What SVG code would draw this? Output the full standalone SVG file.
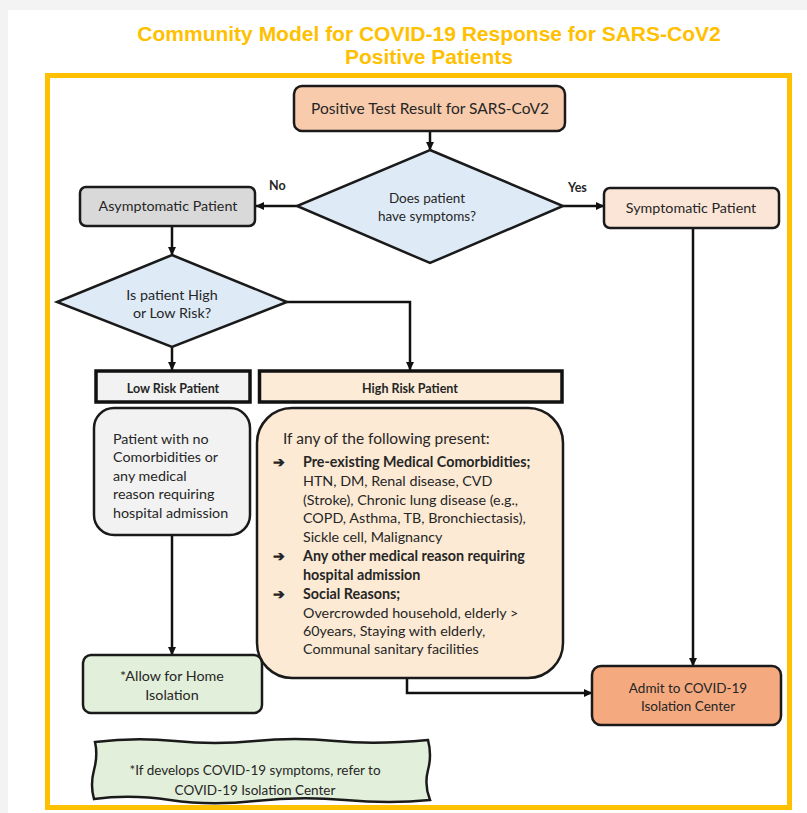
<svg xmlns="http://www.w3.org/2000/svg" width="807" height="813" viewBox="0 0 807 813">
<defs>
<marker id="ah" markerUnits="userSpaceOnUse" markerWidth="9" markerHeight="9" refX="8" refY="4.5" orient="auto">
<path d="M0,0.5 L8.5,4.5 L0,8.5 z" fill="#111"/>
</marker>
<style>
.title{font-family:"Liberation Sans",Arial,sans-serif;font-weight:bold;font-size:21px;fill:#FFC000;text-anchor:middle}
.t{font-family:Lato,"Noto Sans",sans-serif;fill:#262626;font-size:14.3px}
.d{font-size:13.5px}
.c{text-anchor:middle}
.b{font-weight:bold}
.s{font-size:12.5px;font-weight:bold}
.box{stroke:#1a1a1a;stroke-width:2.5}
.con{fill:none;stroke:#111;stroke-width:2.5}
</style>
</defs>
<rect x="0" y="0" width="807" height="813" fill="#f3f3f3"/>
<rect x="8" y="10" width="799" height="803" fill="#ffffff"/>
<text class="title" x="429" y="41">Community Model for COVID-19 Response for SARS-CoV2</text>
<text class="title" x="429" y="64">Positive Patients</text>
<rect x="47.5" y="75.5" width="742" height="732" fill="none" stroke="#FFC000" stroke-width="5"/>

<g id="connectors">
<path class="con" d="M430,131 V150" marker-end="url(#ah)"/>
<path class="con" d="M297,206 H256" marker-end="url(#ah)"/>
<path class="con" d="M563,206 H604" marker-end="url(#ah)"/>
<path class="con" d="M172,226 V255" marker-end="url(#ah)"/>
<path class="con" d="M172,347 V370" marker-end="url(#ah)"/>
<path class="con" d="M287,302 H410 V370" marker-end="url(#ah)"/>
<path class="con" d="M172,535 V655" marker-end="url(#ah)"/>
<path class="con" d="M693,228 V666" marker-end="url(#ah)"/>
<path class="con" d="M407,678 V693 H592" marker-end="url(#ah)"/>
</g>

<g id="positive">
<rect class="box" x="294" y="86" width="271" height="45" rx="8" fill="#F7CBAC"/>
<text class="t c" x="430" y="114" style="font-size:15.5px">Positive Test Result for SARS-CoV2</text>
</g>

<g id="symptoms">
<polygon class="box" points="430,150 563,206 430,263 297,206" fill="#DEEAF6"/>
<text class="t d c" x="427" y="203">Does patient</text>
<text class="t d c" x="427" y="221">have symptoms?</text>
</g>

<g id="label-no"><text class="t s" x="269" y="190">No</text></g>
<g id="label-yes"><text class="t s" x="568" y="192">Yes</text></g>

<g id="asymptomatic">
<rect class="box" x="80" y="187" width="175" height="39" rx="6" fill="#D9D9D9"/>
<text class="t c" x="168" y="211">Asymptomatic Patient</text>
</g>

<g id="symptomatic">
<rect class="box" x="604" y="188" width="175" height="40" rx="6" fill="#FBE5D6"/>
<text class="t c" x="691" y="213">Symptomatic Patient</text>
</g>

<g id="risk">
<polygon class="box" points="172,255 287,302 172,347 57,302" fill="#DEEAF6"/>
<text class="t c" x="172" y="300">Is patient High</text>
<text class="t c" x="172" y="318">or Low Risk?</text>
</g>

<g id="lowrisk">
<rect x="96" y="371" width="154" height="31" fill="#F2F2F2" stroke="#111" stroke-width="3.5"/>
<text class="t s c" x="173" y="393">Low Risk Patient</text>
</g>

<g id="highrisk">
<rect x="259.5" y="371" width="302.5" height="31" fill="#FBEBD7" stroke="#111" stroke-width="3.5"/>
<text class="t s c" x="410" y="393">High Risk Patient</text>
</g>

<g id="lowdetail">
<rect class="box" x="94" y="408" width="156" height="127" rx="20" fill="#F2F2F2"/>
<text class="t" x="113" y="444">Patient with no</text>
<text class="t" x="113" y="462">Comorbidities or</text>
<text class="t" x="113" y="481">any medical</text>
<text class="t" x="113" y="499">reason requiring</text>
<text class="t" x="113" y="518">hospital admission</text>
</g>

<g id="highdetail">
<rect class="box" x="257" y="408" width="306" height="270" rx="35" fill="#FCEAD4"/>
<text class="t" x="283" y="444" style="font-size:15.5px">If any of the following present:</text>
<text class="t b" x="273" y="467">➔</text>
<text class="t b" x="303" y="467">Pre-existing Medical Comorbidities;</text>
<text class="t" x="303" y="486">HTN, DM, Renal disease, CVD</text>
<text class="t" x="303" y="505">(Stroke), Chronic lung disease (e.g.,</text>
<text class="t" x="303" y="523">COPD, Asthma, TB, Bronchiectasis),</text>
<text class="t" x="303" y="542">Sickle cell, Malignancy</text>
<text class="t b" x="273" y="561">➔</text>
<text class="t b" x="303" y="561">Any other medical reason requiring</text>
<text class="t b" x="303" y="580">hospital admission</text>
<text class="t b" x="273" y="599">➔</text>
<text class="t b" x="303" y="599">Social Reasons;</text>
<text class="t" x="303" y="618">Overcrowded household, elderly &gt;</text>
<text class="t" x="303" y="636">60years, Staying with elderly,</text>
<text class="t" x="303" y="654">Communal sanitary facilities</text>
</g>

<g id="home">
<rect class="box" x="83" y="655" width="179" height="58" rx="8" fill="#E2EFDA"/>
<text class="t c" x="172" y="681">*Allow for Home</text>
<text class="t c" x="172" y="700">Isolation</text>
</g>

<g id="admit">
<rect class="box" x="592" y="666" width="189" height="59" rx="9" fill="#F4A97F"/>
<text class="t d c" x="688" y="693">Admit to COVID-19</text>
<text class="t d c" x="688" y="711">Isolation Center</text>
</g>

<g id="note">
<path class="box" d="M95,742 Q135,737 175,741 T255,741 T335,741 T428,740 Q432,755 428,770 T430,800 Q390,804 345,800 T255,801 T170,800 T94,799 Q90,785 94,770 T95,742 Z" fill="#E2EFDA"/>
<text class="t d c" x="255" y="775">*If develops COVID-19 symptoms, refer to</text>
<text class="t d c" x="255" y="795">COVID-19 Isolation Center</text>
</g>
</svg>
